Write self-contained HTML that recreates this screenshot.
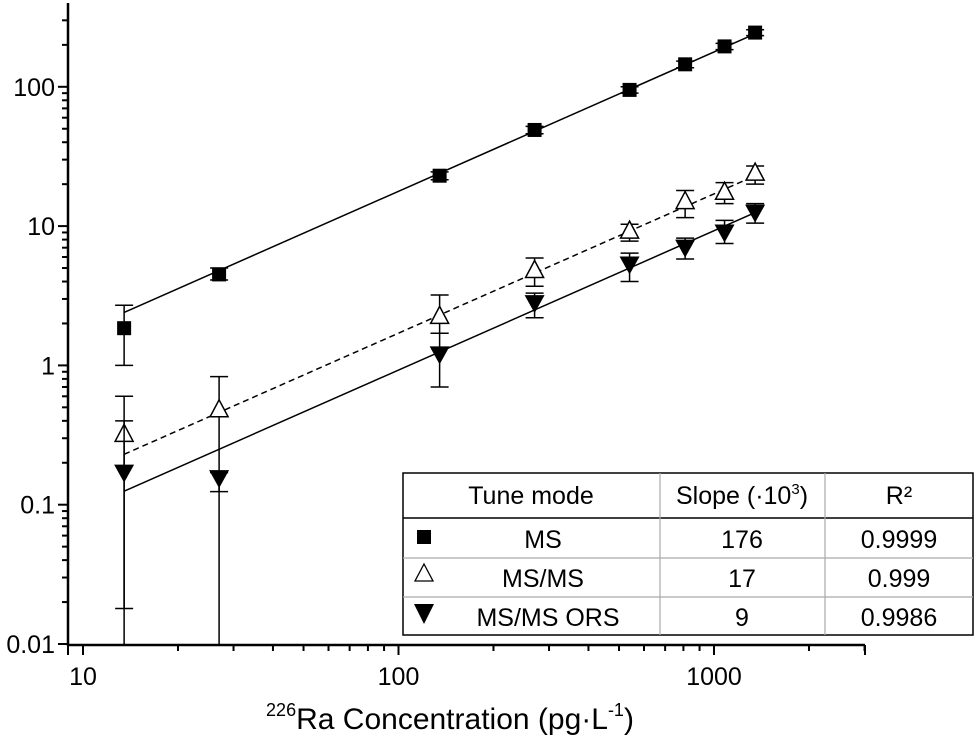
<!DOCTYPE html>
<html><head><meta charset="utf-8"><style>
html,body{margin:0;background:#fff;width:975px;height:745px;overflow:hidden}
svg{font-family:"Liberation Sans",Arial,sans-serif;display:block}
</style></head><body>
<svg id="chart" width="975" height="745"></svg>
<script>
const xCats=[13.5,27,135,270,540,810,1080,1350];
const msVals=[1.85,4.5,23,49,95,145,195,245];
const msLo=[1.0,4.1,21.5,46,90,137,185,233];
const msHi=[2.7,5.0,24.5,52,100,153,205,257];
const msmsVals=[0.32,0.48,2.25,4.8,9.2,15,17.5,24];
const msmsLo=[0.018,0.124,1.7,3.7,7.8,11.5,14.5,20];
const msmsHi=[0.6,0.83,3.2,5.9,10.3,18,20.5,27];
const orsVals=[0.17,0.155,1.2,2.8,5.3,7,9,12.5];
const orsLo=[0.001,0.001,0.7,2.2,4.0,5.8,7.5,10.5];
const orsHi=[0.4,0.17,1.7,3.3,6.4,8.2,11,14.5];
const fitMs=[2.4,240], fitMsms=[0.23,23], fitOrs=[0.125,12.5];
const fitX=[13.5,1350];
const yTicks=[0.01,0.1,1,10,100];
const yLabels=["0.01","0.1","1","10","100"];
const xTicks=[10,100,1000];
const xLabels=["10","100","1000"];

const NS="http://www.w3.org/2000/svg";
const svg=document.getElementById('chart');
const X=v=>83+(Math.log10(v)-1)*315.5;
const Y=v=>644-(Math.log10(v)+2)*139.3;
const L=68,R=865,B=645,T=3;
const cy=y=>Math.max(T,Math.min(B,y));
function el(t,a,p){const e=document.createElementNS(NS,t);for(const k in a)e.setAttribute(k,a[k]);(p||svg).appendChild(e);return e;}

const ax=el('g',{stroke:'#000','stroke-width':2.5,fill:'none'});


el('line',{x1:L,y1:T,x2:L,y2:B+1},ax);
el('line',{x1:L-1,y1:B,x2:R,y2:B},ax);
for(let d=-2;d<=2;d++){for(let m=1;m<=9;m++){const v=m*Math.pow(10,d);const y=Y(v);if(y<T)continue;
 el('line',{x1:L-(m==1?10:6),y1:y,x2:L,y2:y,'stroke-width':2},ax);}}
yTicks.forEach((v,i)=>{const t=el('text',{x:L-13,y:Y(v)+9,'text-anchor':'end','font-size':25});t.textContent=yLabels[i];
 });
for(let d=1;d<=3;d++){for(let m=1;m<=9;m++){const v=m*Math.pow(10,d);const x=X(v);if(x>R)continue;
 el('line',{x1:x,y1:B,x2:x,y2:B+(m==1?10:6),'stroke-width':2},ax);}}
el('line',{x1:L,y1:B,x2:L,y2:B+10,'stroke-width':2},ax);
el('line',{x1:R,y1:B,x2:R,y2:B+10,'stroke-width':2},ax);
xTicks.forEach((v,i)=>{const t=el('text',{x:X(v),y:B+40,'text-anchor':'middle','font-size':25});t.textContent=xLabels[i];
 });
const xt=el('text',{x:450,y:729,'text-anchor':'middle','font-size':30});

xt.innerHTML='<tspan font-size="18" dy="-13">226</tspan><tspan dy="13">Ra Concentration (pg·L</tspan><tspan font-size="18" dy="-13">-1</tspan><tspan dy="13">)</tspan>';

const plot=el('g',{});
function fit(vals,dash,name){const l=el('line',{x1:X(fitX[0]),y1:Y(vals[0]),x2:X(fitX[1]),y2:Y(vals[1]),stroke:'#000','stroke-width':1.5,'stroke-dasharray':dash||'none'},plot);
 }
fit(fitMs,null,'fit-line-ms');fit(fitMsms,'6,4','fit-line-msms');fit(fitOrs,null,'fit-line-msms-ors');
function series(vals,lo,hi,shape,name){const g=el('g',{},plot);
 
 xCats.forEach((c,i)=>{const x=X(c),y=Y(vals[i]),y1r=Y(lo[i]),y2=cy(Y(hi[i]));const y1=cy(y1r);
  el('line',{x1:x,y1:y1,x2:x,y2:y2,stroke:'#000','stroke-width':1.5},g);
  if(y1r<=B)el('line',{x1:x-9,y1:y1,x2:x+9,y2:y1,stroke:'#000','stroke-width':1.5},g);
  el('line',{x1:x-9,y1:y2,x2:x+9,y2:y2,stroke:'#000','stroke-width':1.5},g);
  let m;
  if(shape=='sq')m=el('rect',{x:x-7,y:y-7,width:14,height:14,fill:'#000'},g);
  else if(shape=='up')m=el('path',{d:`M${x},${y-10}L${x+9},${y+7}L${x-9},${y+7}Z`,fill:'#fff',stroke:'#000','stroke-width':1.5},g);
  else m=el('path',{d:`M${x-10},${y-8}L${x+10},${y-8}L${x},${y+10}Z`,fill:'#000'},g);
  });}
series(msVals,msLo,msHi,'sq','series-ms');
series(msmsVals,msmsLo,msmsHi,'up','series-msms');
series(orsVals,orsLo,orsHi,'down','series-msms-ors');

const tb=el('g',{});

el('rect',{x:403,y:473,width:570,height:162,fill:'#fff',stroke:'#000','stroke-width':1.5},tb);
el('line',{x1:403,y1:518,x2:973,y2:518,stroke:'#000','stroke-width':1.5},tb);
[558,597].forEach(y=>el('line',{x1:403,y1:y,x2:973,y2:y,stroke:'#aaa','stroke-width':1.2},tb));
[660,825].forEach(x=>el('line',{x1:x,y1:473,x2:x,y2:635,stroke:'#aaa','stroke-width':1.2},tb));
function tx(x,y,s,name){const t=el('text',{x:x,y:y,'text-anchor':'middle','font-size':25},tb);t.innerHTML=s;
 }
tx(531,504,'Tune mode','header-tune-mode');
tx(742,504,'Slope (·10<tspan font-size="15" dy="-10">3</tspan><tspan dy="10">)</tspan>','header-slope');
tx(899,504,'R²','header-r2');
const rows=[['MS','176','0.9999'],['MS/MS','17','0.999'],['MS/MS ORS','9','0.9986']];
const ry=[548,587,626];
rows.forEach((r,i)=>{tx(i==2?548:543,ry[i],r[0],'legend-entry-name');tx(742,ry[i],r[1],'legend-entry-slope');tx(899,ry[i],r[2],'legend-entry-r2');});
el('rect',{x:417,y:530,width:14,height:14,fill:'#000'},tb);
el('path',{d:'M424,564L433,581L415,581Z',fill:'#fff',stroke:'#000','stroke-width':1.3},tb);
el('path',{d:'M414,604L434,604L424,624Z',fill:'#000'},tb);
</script>
</body></html>
